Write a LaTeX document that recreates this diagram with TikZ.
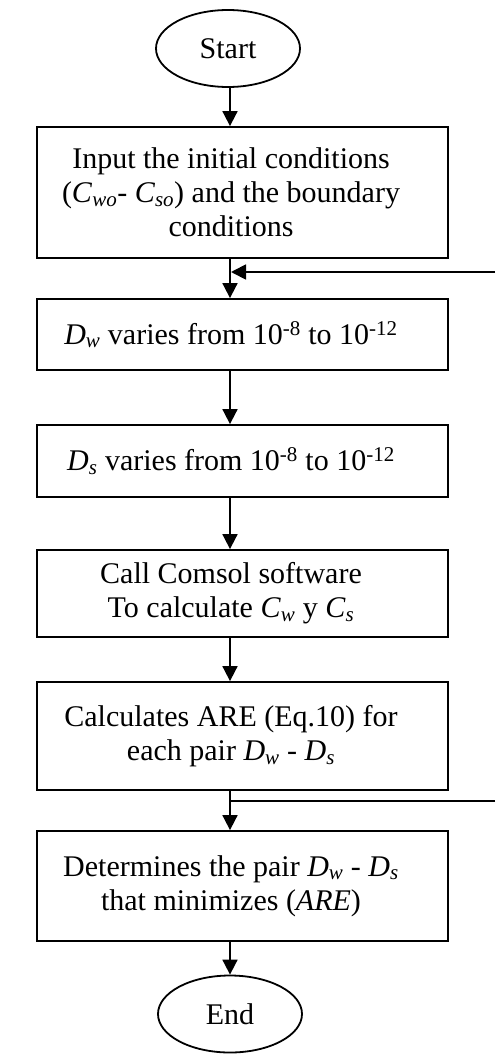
\documentclass[tikz,border=0pt]{standalone}
\usepackage{fontspec}
\setmainfont{Liberation Serif}
\usetikzlibrary{arrows.meta,shapes.geometric}
\begin{document}
\begin{tikzpicture}[x=1pt,y=-1pt,
  box/.style={draw,line width=1.8pt,minimum width=411pt,inner sep=0pt},
  txt/.style={align=center,font=\fontsize{30}{34}\selectfont,inner sep=0pt},
  term/.style={draw,ellipse,line width=1.8pt,minimum width=144pt,
    minimum height=77pt,inner sep=0pt,font=\fontsize{30}{34}\selectfont},
  arr/.style={line width=1.8pt,-{Triangle[length=15pt,width=15pt]}},
  ln/.style={line width=1.8pt}]
\useasboundingbox (0,0) rectangle (495,1054);
\node[term] (start) at (228,48.5) {Start};
\node[box,minimum height=131pt] (b1) at (242.5,192.5) {};
\node[box,minimum height=71pt] (b2) at (242.5,334.5) {};
\node[box,minimum height=72pt] (b3) at (242.5,461) {};
\node[box,minimum height=87pt] (b4) at (242.5,593.5) {};
\node[box,minimum height=108pt] (b5) at (242.5,736) {};
\node[box,minimum height=110pt] (b6) at (242.5,886) {};
\node[txt] (t1) at ([xshift=-11.5pt]b1.center)
  {Input the initial conditions\\
   (\textit{C}\textsubscript{\textit{wo}}- \textit{C}\textsubscript{\textit{so}}) and the boundary\\
   conditions};
\node[txt] (t2) at ([xshift=-11.5pt]b2.center)
  {\textit{D}\textsubscript{\textit{w}} varies from 10\textsuperscript{-8} to 10\textsuperscript{-12}};
\node[txt] (t3) at ([xshift=-11.5pt]b3.center)
  {\textit{D}\textsubscript{\textit{s}} varies from 10\textsuperscript{-8} to 10\textsuperscript{-12}};
\node[txt] (t4) at ([xshift=-11.5pt]b4.center)
  {Call Comsol software\\
   To calculate \textit{C}\textsubscript{\textit{w}} y \textit{C}\textsubscript{\textit{s}}};
\node[txt] (t5) at ([xshift=-11.5pt]b5.center)
  {Calculates ARE (Eq.10) for\\
   each pair \textit{D}\textsubscript{\textit{w}} - \textit{D}\textsubscript{\textit{s}}};
\node[txt] (t6) at ([xshift=-11.5pt]b6.center)
  {Determines the pair \textit{D}\textsubscript{\textit{w}} - \textit{D}\textsubscript{\textit{s}}\\
   that minimizes (\textit{ARE})};
\node[term] (end) at (230,1014) {End};
\coordinate (x0) at (230,0);
\coordinate (loopA) at (495,272);
\coordinate (loopB) at (495,801);
\draw[arr] (start.south -| x0) -- (b1.north -| x0);
\draw[arr] (b1.south -| x0) -- (b2.north -| x0);
\draw[arr,shorten >=1pt] (loopA) -- (loopA -| x0);
\draw[arr] (b2.south -| x0) -- (b3.north -| x0);
\draw[arr] (b3.south -| x0) -- (b4.north -| x0);
\draw[arr] (b4.south -| x0) -- (b5.north -| x0);
\draw[arr] (b5.south -| x0) -- (b6.north -| x0);
\draw[ln] (loopB) -- (loopB -| x0);
\draw[arr] (b6.south -| x0) -- (end.north);
\end{tikzpicture}
\end{document}
